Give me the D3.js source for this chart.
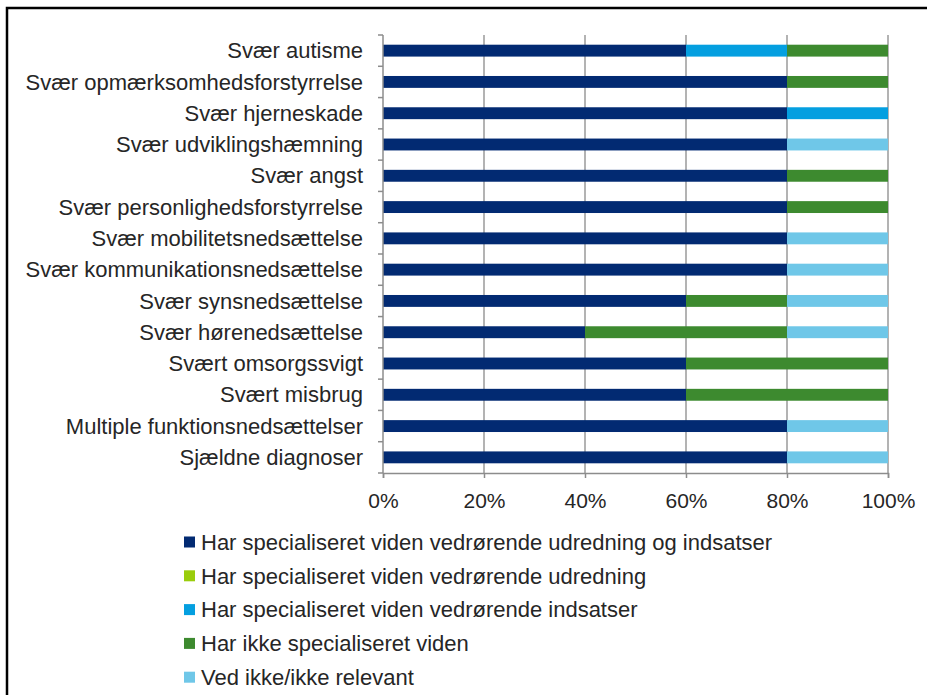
<!DOCTYPE html>
<html>
<head>
<meta charset="utf-8">
<script src="https://cdn.jsdelivr.net/npm/d3@7"></script>
<style>
  html, body { margin: 0; padding: 0; background: #fff; }
  #chart { width: 927px; height: 695px; }
  text { font-family: "Liberation Sans", Arial, sans-serif; fill: #262626; }
</style>
</head>
<body>
<div id="chart"></div>
<script>
var categories = [
  "Svær autisme",
  "Svær opmærksomhedsforstyrrelse",
  "Svær hjerneskade",
  "Svær udviklingshæmning",
  "Svær angst",
  "Svær personlighedsforstyrrelse",
  "Svær mobilitetsnedsættelse",
  "Svær kommunikationsnedsættelse",
  "Svær synsnedsættelse",
  "Svær hørenedsættelse",
  "Svært omsorgssvigt",
  "Svært misbrug",
  "Multiple funktionsnedsættelser",
  "Sjældne diagnoser"
];

var seriesNames = [
  "Har specialiseret viden vedrørende udredning og indsatser",
  "Har specialiseret viden vedrørende udredning",
  "Har specialiseret viden vedrørende indsatser",
  "Har ikke specialiseret viden",
  "Ved ikke/ikke relevant"
];

// percentages per category, one array per series
var udredningOgIndsatser = [60, 80, 80, 80, 80, 80, 80, 80, 60, 40, 60, 60, 80, 80];
var udredning            = [0, 0, 0, 0, 0, 0, 0, 0, 0, 0, 0, 0, 0, 0];
var indsatser            = [20, 0, 20, 0, 0, 0, 0, 0, 0, 0, 0, 0, 0, 0];
var ikkeViden            = [20, 20, 0, 0, 20, 20, 0, 0, 20, 40, 40, 40, 0, 0];
var vedIkke              = [0, 0, 0, 20, 0, 0, 20, 20, 20, 20, 0, 0, 20, 20];

var xTicks = [0, 20, 40, 60, 80, 100];

var colors = ["#022a72", "#9acd0c", "#049fe0", "#3d8a2f", "#6fc7e8"];

var seriesValues = [udredningOgIndsatser, udredning, indsatser, ikkeViden, vedIkke];
var table = categories.map(function(c, i) {
  var row = { name: c };
  seriesNames.forEach(function(s, k) { row[s] = seriesValues[k][i]; });
  return row;
});

var width = 927, height = 695;
var pLeft = 383, pRight = 888, pTop = 35, pBottom = 473;

var svg = d3.select("#chart").append("svg")
  .attr("width", width)
  .attr("height", height);

// frame
svg.append("path")
  .attr("d", "M7,695 L7,8 L927,8")
  .attr("fill", "none")
  .attr("stroke", "#000")
  .attr("stroke-width", 2.5);

var x = d3.scaleLinear().domain([0, 100]).range([pLeft, pRight]);
var y = d3.scaleBand().domain(categories).range([pTop, pBottom]).paddingInner(0.62).paddingOuter(0.31);

// gridlines
svg.append("g")
  .selectAll("line")
  .data(xTicks.slice(1))
  .join("line")
  .attr("x1", function(d) { return x(d); })
  .attr("x2", function(d) { return x(d); })
  .attr("y1", pTop)
  .attr("y2", pBottom)
  .attr("stroke", "#9a9a9a")
  .attr("stroke-width", 1.5);

var stack = d3.stack().keys(seriesNames)(table);

svg.append("g")
  .selectAll("g")
  .data(stack)
  .join("g")
  .attr("fill", function(d, i) { return colors[i]; })
  .selectAll("rect")
  .data(function(d) { return d; })
  .join("rect")
  .attr("x", function(d) { return x(d[0]); })
  .attr("width", function(d) { return x(d[1]) - x(d[0]); })
  .attr("y", function(d) { return y(d.data.name); })
  .attr("height", y.bandwidth());

// x axis
var xAxis = svg.append("g")
  .attr("transform", "translate(0," + pBottom + ")")
  .call(d3.axisBottom(x).tickValues(xTicks).tickFormat(function(d) { return d + "%"; }).tickSize(5).tickPadding(15));
xAxis.select(".domain").attr("stroke", "#8c8c8c").attr("stroke-width", 1.5);
xAxis.selectAll(".tick line").attr("stroke", "#8c8c8c").attr("stroke-width", 1.5);
xAxis.selectAll("text").style("font-size", "21px").attr("fill", "#262626");

// y axis: ticks at band boundaries
var yBounds = d3.range(categories.length + 1).map(function(i) {
  return pTop + i * y.step();
});
var yAxisG = svg.append("g");
yAxisG.append("line")
  .attr("x1", pLeft).attr("x2", pLeft)
  .attr("y1", pTop).attr("y2", pBottom)
  .attr("stroke", "#8c8c8c").attr("stroke-width", 1.5);
yAxisG.selectAll("line.tk")
  .data(yBounds)
  .join("line")
  .attr("class", "tk")
  .attr("x1", pLeft - 5).attr("x2", pLeft)
  .attr("y1", function(d) { return d; })
  .attr("y2", function(d) { return d; })
  .attr("stroke", "#8c8c8c").attr("stroke-width", 1.5);

svg.append("g")
  .selectAll("text")
  .data(categories)
  .join("text")
  .attr("x", 363)
  .attr("y", function(d) { return y(d) + y.bandwidth() / 2; })
  .attr("dy", "0.35em")
  .attr("text-anchor", "end")
  .style("font-size", "22px")
  .text(function(d) { return d; });

// legend
var legend = svg.append("g")
  .selectAll("g")
  .data(seriesNames)
  .join("g")
  .attr("transform", function(d, i) { return "translate(184," + (542 + i * 33.8) + ")"; });
legend.append("rect")
  .attr("x", 0).attr("y", -5.5)
  .attr("width", 11).attr("height", 11)
  .attr("fill", function(d, i) { return colors[i]; });
legend.append("text")
  .attr("x", 17)
  .attr("dy", "0.35em")
  .style("font-size", "22px")
  .text(function(d) { return d; });
</script>
</body>
</html>
